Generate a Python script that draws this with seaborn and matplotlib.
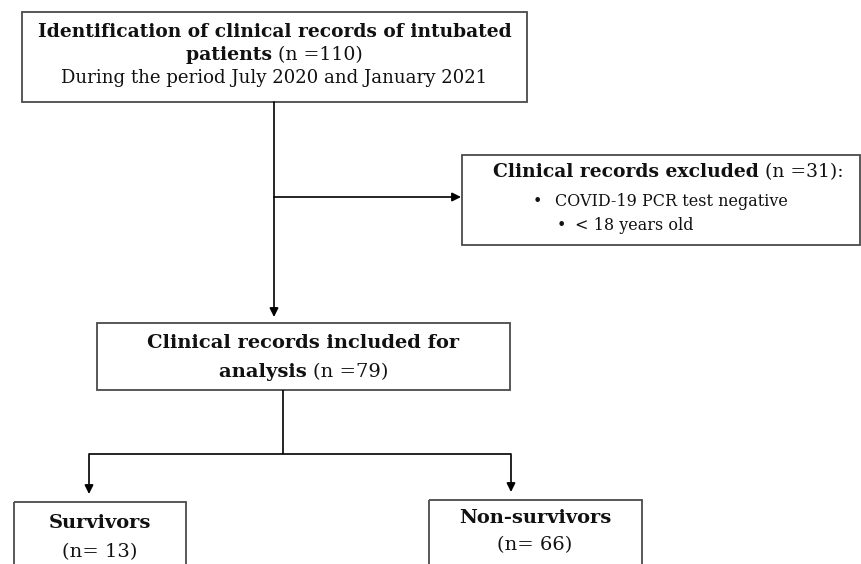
"""
Flow diagram of patient selection (intubated COVID-19 patients).
Drawn on a pixel-sized axis with seaborn styling and matplotlib patches.
"""
import seaborn as sns
import matplotlib.pyplot as plt
from matplotlib.patches import Rectangle

# counts shown in the boxes
n_identified = 110
n_excluded = 31
n_included = 79
n_survivors = 13
n_nonsurvivors = 66

period_text = "During the period July 2020 and January 2021"
exclusion_reasons = ["COVID-19 PCR test negative", "< 18 years old"]

sns.set_theme(style="white")
plt.rcParams['font.family'] = ['DejaVu Serif']

W, H = 862, 564
fig = plt.figure(figsize=(W / 100, H / 100), dpi=100)
ax = fig.add_axes([0, 0, 1, 1])
ax.set_xlim(0, W)
ax.set_ylim(H, 0)
ax.axis('off')
renderer = fig.canvas.get_renderer()

FS = 14
FS_SMALL = 11.5
BOX_EDGE = '#4a4a4a'
TXT = '#111111'


def box(x0, y0, x1, y1):
    ax.add_patch(Rectangle((x0, y0), x1 - x0, y1 - y0, fill=False,
                           edgecolor=BOX_EDGE, lw=1.3))


def rich_line(cx, cy, parts, size=FS):
    """Draw a line made of (text, weight) parts, centred on cx."""
    texts = []
    for s, w in parts:
        t = ax.text(0, cy, s, fontsize=size, fontweight=w, va='center',
                    ha='left', color=TXT)
        texts.append(t)
    widths = [t.get_window_extent(renderer).width for t in texts]
    x = cx - sum(widths) / 2
    for t, w in zip(texts, widths):
        t.set_x(x)
        x += w


def arrow(x0, y0, x1, y1):
    ax.annotate('', xy=(x1, y1), xytext=(x0, y0),
                arrowprops=dict(arrowstyle='-|>', mutation_scale=13, lw=1.2,
                                color='black', shrinkA=0, shrinkB=0))


def line(xs, ys):
    ax.plot(xs, ys, color='black', lw=1.2, solid_capstyle='butt')


# top box
box(22, 12, 527, 102)
cx = (22 + 527) / 2
rich_line(cx, 32, [("Identification of clinical records of intubated", 'bold')], size=13.4)
rich_line(cx, 55, [("patients ", 'bold'), (f"(n ={n_identified})", 'normal')], size=13.6)
rich_line(cx, 78, [(period_text, 'normal')], size=13.1)

# exclusion box
box(462, 155, 860, 245)
rich_line(668, 172, [("Clinical records excluded ", 'bold'), (f"(n ={n_excluded}):", 'normal')], size=13.5)
ax.text(537, 201, "•", fontsize=FS_SMALL, va='center', ha='center', color=TXT)
ax.text(555, 201, exclusion_reasons[0], fontsize=FS_SMALL, va='center', ha='left', color=TXT)
ax.text(561, 226, "•", fontsize=FS_SMALL, va='center', ha='center', color=TXT)
ax.text(575, 226, exclusion_reasons[1], fontsize=FS_SMALL, va='center', ha='left', color=TXT)

# included box
box(97, 323, 510, 390)
cx = (97 + 510) / 2
rich_line(cx, 343, [("Clinical records included for", 'bold')])
rich_line(cx, 372, [("analysis ", 'bold'), (f"(n ={n_included})", 'normal')])

# outcome boxes (cut by the bottom edge)
box(14, 502, 186, 580)
rich_line(100, 523, [("Survivors", 'bold')])
rich_line(100, 552, [(f"(n= {n_survivors})", 'normal')])

box(429, 500, 642, 580)
rich_line(535, 518, [("Non-survivors", 'bold')])
rich_line(535, 545, [(f"(n= {n_nonsurvivors})", 'normal')])

# connectors
arrow(274, 102, 274, 317)
arrow(274, 197, 461, 197)
line([283, 283], [390, 454])
line([89, 511], [454, 454])
arrow(89, 454, 89, 494)
arrow(511, 454, 511, 492)

fig.savefig('out.png', dpi=100)
plt.close(fig)
